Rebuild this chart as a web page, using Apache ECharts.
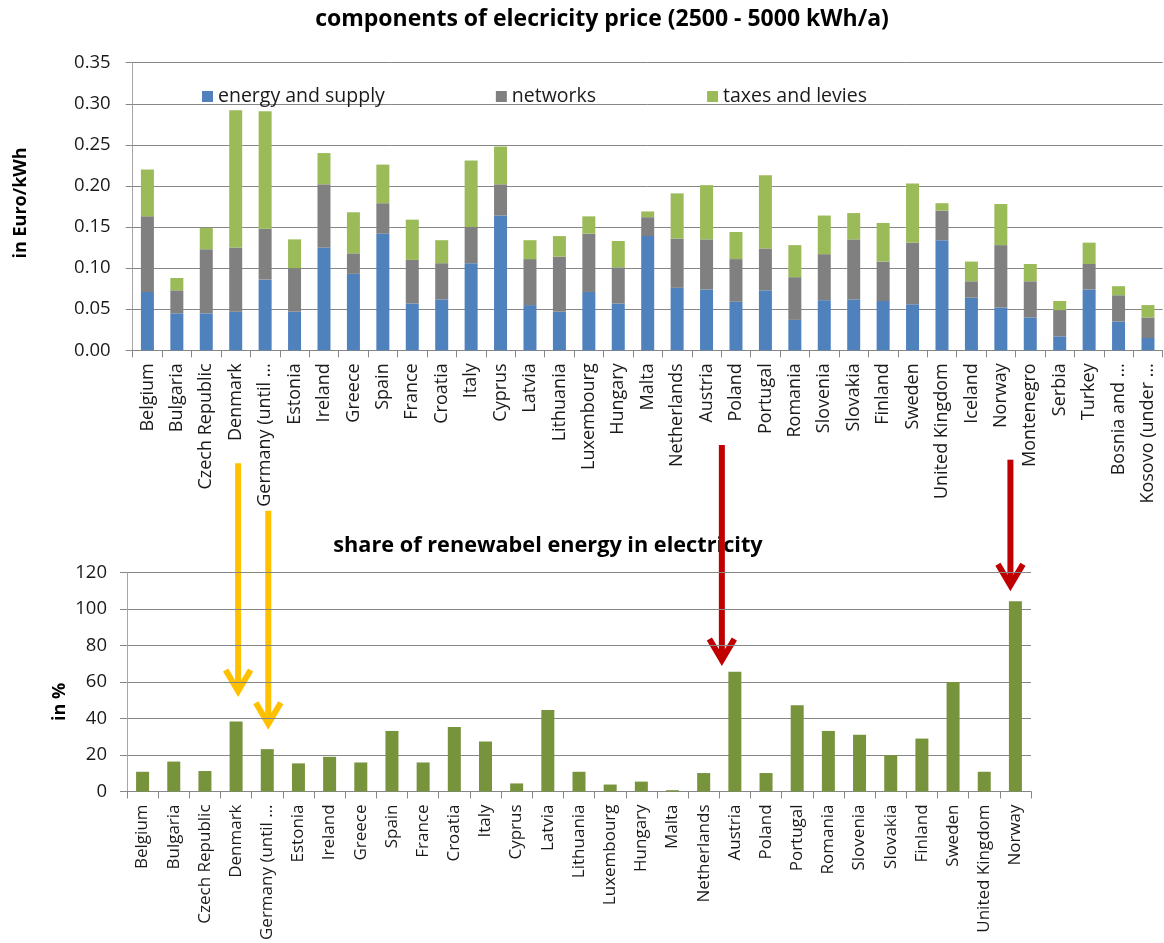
<!DOCTYPE html>
<html>
<head>
<meta charset="utf-8">
<script src="https://cdn.jsdelivr.net/npm/echarts@6.0.0/dist/echarts.min.js"></script>
<style>
  html, body { margin: 0; padding: 0; background: #ffffff; }
  #chart { width: 1164px; height: 943px; }
</style>
</head>
<body>
<div id="chart"></div>
<script>
// ---- electricity price components (Euro/kWh), household band 2500 - 5000 kWh/a ----
const priceCountries = [
  'Belgium', 'Bulgaria', 'Czech Republic', 'Denmark', 'Germany (until …', 'Estonia', 'Ireland',
  'Greece', 'Spain', 'France', 'Croatia', 'Italy', 'Cyprus', 'Latvia', 'Lithuania', 'Luxembourg',
  'Hungary', 'Malta', 'Netherlands', 'Austria', 'Poland', 'Portugal', 'Romania', 'Slovenia',
  'Slovakia', 'Finland', 'Sweden', 'United Kingdom', 'Iceland', 'Norway', 'Montenegro', 'Serbia',
  'Turkey', 'Bosnia and …', 'Kosovo (under …'
];
const energySupply = [
  0.071, 0.045, 0.045, 0.047, 0.086, 0.047, 0.125, 0.093, 0.142, 0.057, 0.062, 0.106,
  0.164, 0.055, 0.047, 0.071, 0.057, 0.139, 0.076, 0.074, 0.059, 0.073, 0.037, 0.061,
  0.062, 0.060, 0.056, 0.134, 0.064, 0.052, 0.040, 0.017, 0.074, 0.035, 0.015
];
const networks = [
  0.092, 0.028, 0.078, 0.078, 0.062, 0.053, 0.077, 0.025, 0.037, 0.053, 0.044, 0.044,
  0.038, 0.056, 0.067, 0.071, 0.044, 0.023, 0.060, 0.061, 0.052, 0.051, 0.052, 0.056,
  0.073, 0.048, 0.075, 0.036, 0.020, 0.076, 0.044, 0.032, 0.031, 0.032, 0.025
];
const taxesLevies = [
  0.057, 0.015, 0.026, 0.167, 0.143, 0.035, 0.038, 0.050, 0.047, 0.049, 0.028, 0.081,
  0.046, 0.023, 0.025, 0.021, 0.032, 0.007, 0.055, 0.066, 0.033, 0.089, 0.039, 0.047,
  0.032, 0.047, 0.072, 0.009, 0.024, 0.050, 0.021, 0.011, 0.026, 0.011, 0.015
];
const priceSeriesNames = ['energy and supply', 'networks', 'taxes and levies'];

// ---- share of renewable energy in electricity (%) ----
const shareCountries = [
  'Belgium', 'Bulgaria', 'Czech Republic', 'Denmark', 'Germany (until …', 'Estonia', 'Ireland',
  'Greece', 'Spain', 'France', 'Croatia', 'Italy', 'Cyprus', 'Latvia', 'Lithuania', 'Luxembourg',
  'Hungary', 'Malta', 'Netherlands', 'Austria', 'Poland', 'Portugal', 'Romania', 'Slovenia',
  'Slovakia', 'Finland', 'Sweden', 'United Kingdom', 'Norway'
];
const renewableShare = [
  10.8, 16.4, 11.2, 38.4, 23.2, 15.4, 19.0, 15.9, 33.2, 15.9, 35.3, 27.4, 4.4, 44.7, 10.8,
  3.8, 5.4, 0.7, 10.1, 65.7, 10.1, 47.3, 33.2, 31.1, 19.9, 29.0, 60.1, 10.8, 104.4
];

// ---- highlight arrows: country, start and tip (in % of the lower value axis) ----
const arrowCountries = ['Denmark', 'Germany (until …', 'Austria', 'Norway'];
const arrowFrom = [180, 154, 190, 182];
const arrowTo = [54, 36, 71, 112];

const FONT = '"Open Sans", "Liberation Sans", sans-serif';
const TEXT = '#1a1a1a';
const GRID_LINE = '#868686';
const AXIS_LINE = '#a6a6a6';

const chart = echarts.init(document.getElementById('chart'), null, { renderer: 'canvas' });

const catAxis = (gridIndex, data, fontSize) => ({
  type: 'category',
  gridIndex,
  data,
  axisLine: { lineStyle: { color: GRID_LINE, width: 1 } },
  axisTick: { show: true, length: 7, lineStyle: { color: GRID_LINE } },
  axisLabel: {
    interval: 0, rotate: 90, margin: 13, color: TEXT,
    fontFamily: FONT, fontSize, hideOverlap: false
  }
});

const valAxis = (gridIndex, max, interval, digits, margin) => ({
  type: 'value',
  gridIndex,
  min: 0, max, interval,
  axisLine: { show: true, lineStyle: { color: AXIS_LINE, width: 1 } },
  axisTick: { show: true, length: 7, lineStyle: { color: GRID_LINE } },
  splitLine: { lineStyle: { color: GRID_LINE, width: 1 } },
  axisLabel: {
    margin, color: TEXT, fontFamily: FONT, fontSize: 18.5,
    formatter: v => v.toFixed(digits)
  }
});

const priceColors = ['#4f81bd', '#808080', '#9bbb59'];
const priceData = [energySupply, networks, taxesLevies];

const titleText = (id, text, x, y, size) => ({
  id, type: 'text', silent: true,
  style: {
    text, x, y, align: 'center', verticalAlign: 'middle',
    font: 'bold ' + size + 'px ' + FONT, fill: '#000'
  }
});
const axisName = (id, text, x, y) => ({
  id, type: 'text', silent: true, x, y, rotation: Math.PI / 2,
  style: {
    text, x: 0, y: 0, align: 'center', verticalAlign: 'middle',
    font: 'bold 18px ' + FONT, fill: '#000'
  }
});

chart.setOption({
  animation: false,
  backgroundColor: '#ffffff',
  grid: [
    { left: 132.7, top: 62.7, width: 1030, height: 287.6 },
    { left: 127, top: 572.7, width: 904, height: 228.6 }
  ],
  legend: {
    data: priceSeriesNames,
    left: 197, top: 81,
    itemWidth: 11, itemHeight: 11, itemGap: 111,
    icon: 'rect',
    selectedMode: false,
    textStyle: { fontFamily: FONT, fontSize: 19.5, color: TEXT, lineHeight: 21 }
  },
  xAxis: [catAxis(0, priceCountries, 18), catAxis(1, shareCountries, 17)],
  yAxis: [valAxis(0, 0.35, 0.05, 2, 22), valAxis(1, 120, 20, 0, 20)],
  series: [
    ...priceSeriesNames.map((name, i) => ({
      name,
      type: 'bar',
      stack: 'price',
      xAxisIndex: 0, yAxisIndex: 0,
      barWidth: 13,
      itemStyle: { color: priceColors[i] },
      data: priceData[i]
    })),
    {
      name: 'share of renewable energy',
      type: 'bar',
      xAxisIndex: 1, yAxisIndex: 1,
      barWidth: 13,
      itemStyle: { color: '#77933c' },
      data: renewableShare
    }
  ],
  graphic: [
    titleText('title-price', 'components of elecricity price (2500 - 5000 kWh/a)', 602, 19, 23),
    titleText('title-share', 'share of renewabel energy in electricity', 548, 546, 21.7),
    axisName('name-price', 'in Euro/kWh', 21, 203),
    axisName('name-share', 'in %', 60, 702)
  ]
});

// Arrows pointing from the price chart down to the matching renewable-share bars.
const arrowColor = name => (name === 'Austria' || name === 'Norway') ? '#c00000' : '#ffc000';
const arrowNudge = [2, 1, -13, -5];
const arrowGraphics = [];
arrowCountries.forEach((name, i) => {
  const idx = shareCountries.indexOf(name);
  const start = chart.convertToPixel({ gridIndex: 1 }, [idx, arrowFrom[i]]);
  const tip = chart.convertToPixel({ gridIndex: 1 }, [idx, arrowTo[i]]);
  const x = start[0] + arrowNudge[i];
  const color = arrowColor(name);
  arrowGraphics.push({
    id: 'arrow-shaft-' + i, type: 'line', silent: true,
    shape: { x1: x, y1: start[1], x2: x, y2: tip[1] - 3 },
    style: { stroke: color, lineWidth: 6 }
  });
  arrowGraphics.push({
    id: 'arrow-head-' + i, type: 'polyline', silent: true,
    shape: { points: [[x - 12.5, tip[1] - 23], [x, tip[1] - 2], [x + 12.5, tip[1] - 23]] },
    style: { stroke: color, lineWidth: 6, fill: null, lineJoin: 'miter' }
  });
});
chart.setOption({ graphic: arrowGraphics });
</script>
</body>
</html>
